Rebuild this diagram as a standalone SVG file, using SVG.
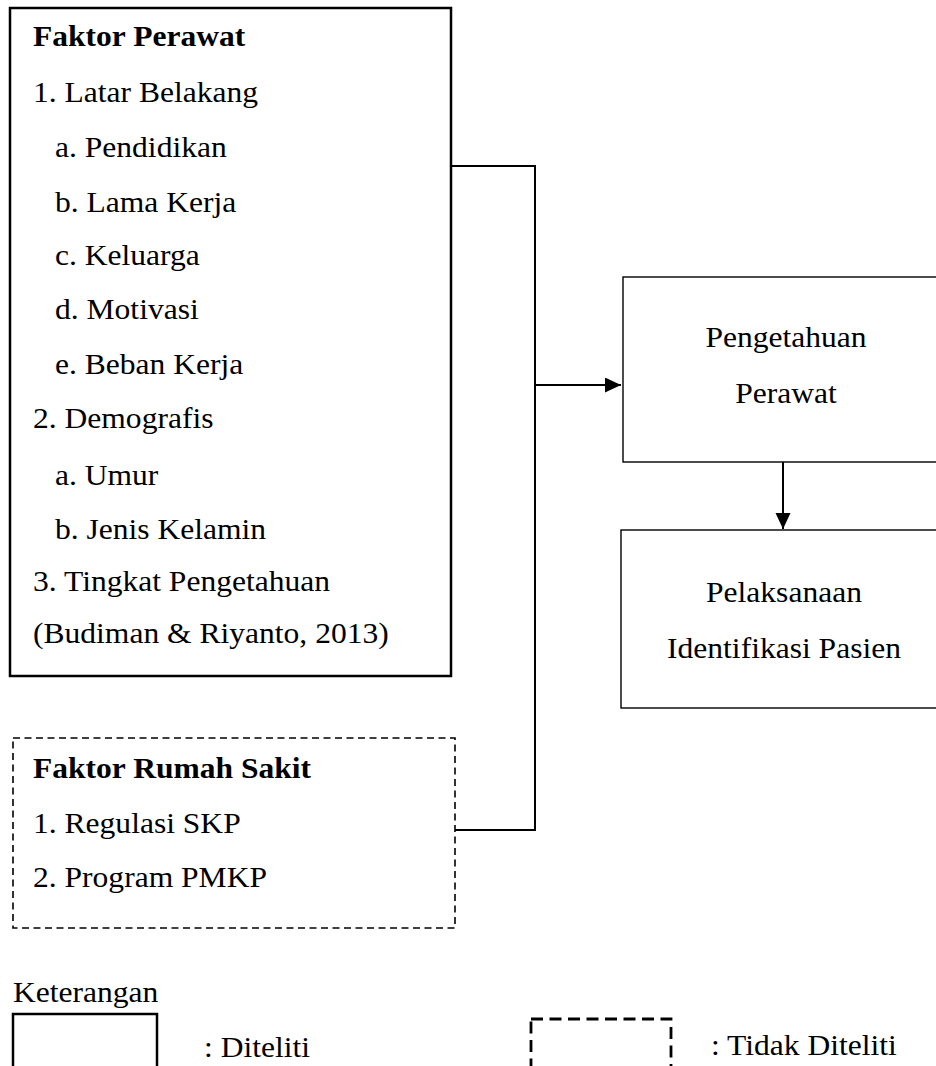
<svg xmlns="http://www.w3.org/2000/svg" width="936" height="1066" viewBox="0 0 936 1066">
  <style>
    text { font-family: "Liberation Serif", Tinos, "Times New Roman", serif; font-size: 29.5px; fill: #000; }
    .b { font-weight: bold; }
    .m { text-anchor: middle; }
    .solid { fill: #fff; stroke: #000; stroke-width: 2.5; }
    .thin { fill: #fff; stroke: #000; stroke-width: 1.4; }
    .dash { fill: none; stroke: #000; stroke-width: 1.6; stroke-dasharray: 7 4.5; }
    .dashL { fill: none; stroke: #000; stroke-width: 2.8; stroke-dasharray: 12 6.5; }
    .conn { fill: none; stroke: #000; stroke-width: 2; }
  </style>
  <defs>
    <marker id="arrow" markerUnits="userSpaceOnUse" markerWidth="16" markerHeight="16" refX="16" refY="7.5" orient="auto">
      <path d="M0,0 L16,7.5 L0,15 z" fill="#000"/>
    </marker>
  </defs>
  <rect width="936" height="1066" fill="#fff"/>

  <g id="connectors">
    <path class="conn" d="M451,166 H535 V830 H455"/>
    <path class="conn" d="M535,385 H621" stroke-width="2.5" marker-end="url(#arrow)"/>
    <path class="conn" d="M783,462 V529" stroke-width="2.5" marker-end="url(#arrow)"/>
  </g>

  <g id="faktor-perawat">
    <rect class="solid" x="10" y="8" width="441" height="668"/>
    <text class="b" transform="translate(33,46) scale(1.07,1)">Faktor Perawat</text>
    <text transform="translate(33,102) scale(1.07,1)">1. Latar Belakang</text>
    <text transform="translate(55,157) scale(1.07,1)">a. Pendidikan</text>
    <text transform="translate(55,212) scale(1.07,1)">b. Lama Kerja</text>
    <text transform="translate(55,265) scale(1.07,1)">c. Keluarga</text>
    <text transform="translate(55,319) scale(1.07,1)">d. Motivasi</text>
    <text transform="translate(55,374) scale(1.07,1)">e. Beban Kerja</text>
    <text transform="translate(33,428) scale(1.07,1)">2. Demografis</text>
    <text transform="translate(55,485) scale(1.07,1)">a. Umur</text>
    <text transform="translate(55,539) scale(1.07,1)">b. Jenis Kelamin</text>
    <text transform="translate(33,591) scale(1.07,1)">3. Tingkat Pengetahuan</text>
    <text transform="translate(33,643) scale(1.07,1)">(Budiman &amp; Riyanto, 2013)</text>
  </g>

  <g id="faktor-rumah-sakit">
    <rect class="dash" x="13" y="738" width="442" height="190"/>
    <text class="b" transform="translate(33,778) scale(1.07,1)">Faktor Rumah Sakit</text>
    <text transform="translate(33,833) scale(1.07,1)">1. Regulasi SKP</text>
    <text transform="translate(33,887) scale(1.07,1)">2. Program PMKP</text>
  </g>

  <g id="pengetahuan-perawat">
    <rect class="thin" x="623" y="277" width="330" height="185"/>
    <text class="m" transform="translate(786,347) scale(1.07,1)">Pengetahuan</text>
    <text class="m" transform="translate(786,403) scale(1.07,1)">Perawat</text>
  </g>

  <g id="pelaksanaan-identifikasi">
    <rect class="thin" x="621" y="530" width="330" height="178"/>
    <text class="m" transform="translate(784,602) scale(1.07,1)">Pelaksanaan</text>
    <text class="m" transform="translate(784,658) scale(1.07,1)">Identifikasi Pasien</text>
  </g>

  <g id="legend">
    <text transform="translate(13,1002) scale(1.07,1)">Keterangan</text>
    <rect class="solid" x="13" y="1014" width="144" height="80"/>
    <text transform="translate(204,1057) scale(1.07,1)">: Diteliti</text>
    <rect class="dashL" x="531" y="1019" width="140" height="80"/>
    <text transform="translate(711,1055) scale(1.07,1)">: Tidak Diteliti</text>
  </g>
</svg>
